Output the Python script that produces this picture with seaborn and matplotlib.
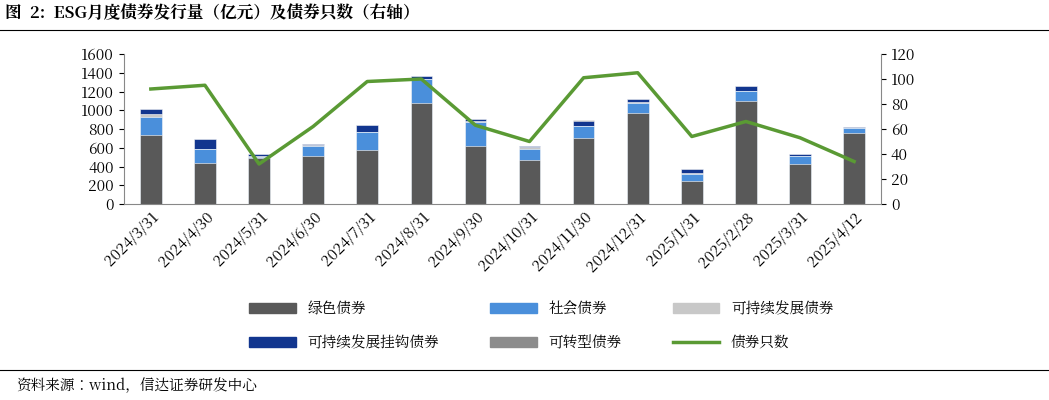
import matplotlib
matplotlib.use("Agg")
import matplotlib.pyplot as plt
from matplotlib import font_manager
from matplotlib.ft2font import FT2Font
import numpy as np
import seaborn as sns
from matplotlib.lines import Line2D
from matplotlib.patches import Patch

# pick a CJK face that really has simplified Chinese glyphs
cjk = "Noto Sans CJK SC"
for f in font_manager.fontManager.ttflist:
    if "CJK" in f.name:
        try:
            ft = FT2Font(f.fname)
            if ft.get_char_index(ord("绿")) and ft.get_char_index(ord("债")):
                cjk = f.name
                if "SC" in f.name:
                    break
        except Exception:
            pass
plt.rcParams["font.family"] = [cjk, "DejaVu Sans"]

DATES = ["2024/3/31", "2024/4/30", "2024/5/31", "2024/6/30", "2024/7/31",
         "2024/8/31", "2024/9/30", "2024/10/31", "2024/11/30", "2024/12/31",
         "2025/1/31", "2025/2/28", "2025/3/31", "2025/4/12"]
GREEN = [740, 440, 490, 515, 580, 1080, 620, 470, 700, 975, 250, 1100, 430, 760]
SOCIAL = [190, 145, 15, 105, 190, 250, 260, 115, 130, 100, 70, 110, 80, 50]
SUSTAIN = [30, 0, 5, 5, 0, 5, 10, 20, 5, 10, 15, 0, 5, 0]
SLB = [55, 110, 20, 15, 75, 30, 20, 10, 55, 40, 40, 50, 20, 10]
TRANS = [0, 0, 0, 0, 0, 0, 0, 5, 5, 0, 0, 0, 0, 0]
COUNT = [92, 95, 32, 62, 98, 100, 63, 50, 101, 105, 54, 66, 53, 34]

SERIES = [("绿色债券", GREEN, "#595959"), ("社会债券", SOCIAL, "#4A8FDB"),
          ("可持续发展债券", SUSTAIN, "#C8C8C8"),
          ("可持续发展挂钩债券", SLB, "#12368F"), ("可转型债券", TRANS, "#8C8C8C")]

fig = plt.figure(figsize=(10.49, 4.0), dpi=100)
ax = fig.add_axes([0.118, 0.49, 0.722, 0.375])

cum = np.zeros(len(DATES))
cums = []
for name, vals, col in SERIES:
    cum = cum + np.array(vals)
    cums.append((name, cum.copy(), col))
for name, c, col in reversed(cums):
    sns.barplot(x=DATES, y=c, color=col, width=0.4, ax=ax, saturation=1,
                edgecolor="white", linewidth=0.4)

ax.set_ylim(0, 1600)
ax.set_yticks(range(0, 1601, 200))
ax.set_xlim(-0.5, len(DATES) - 0.5)
ax.tick_params(axis="x", rotation=45, labelsize=11, length=0)
for lab in ax.get_xticklabels():
    lab.set_ha("right"); lab.set_rotation_mode("anchor")
ax.tick_params(axis="y", labelsize=11)
for s in ["top", "right"]:
    ax.spines[s].set_visible(False)
ax.spines["left"].set_color("#888888")
ax.spines["bottom"].set_color("#888888")
ax.set_xlabel(""); ax.set_ylabel("")

ax2 = ax.twinx()
sns.lineplot(x=np.arange(len(DATES)), y=COUNT, color="#5A9A34", linewidth=2.5, ax=ax2)
ax2.set_ylim(0, 120)
ax2.set_yticks(range(0, 121, 20))
ax2.tick_params(axis="y", labelsize=11)
for s in ["top", "left", "bottom"]:
    ax2.spines[s].set_visible(False)
ax2.spines["right"].set_color("#888888")

handles = [Patch(color=c) for _, _, c in SERIES] + [Line2D([], [], color="#5A9A34", lw=2.5)]
labels = [n for n, _, _ in SERIES] + ["债券只数"]
order = [0, 3, 1, 4, 2, 5]
fig.legend([handles[i] for i in order], [labels[i] for i in order], ncol=3,
           loc="center left", bbox_to_anchor=(0.225, 0.185), frameon=False, fontsize=10.5,
           columnspacing=3.5, handlelength=3.2, handleheight=0.6, labelspacing=1.2)

fig.text(0.005, 0.965, "图  2:  ESG月度债券发行量（亿元）及债券只数（右轴）",
         fontsize=12, fontweight="bold", va="center")
fig.add_artist(Line2D([0, 1], [0.925, 0.925], color="black", lw=0.8))
fig.add_artist(Line2D([0, 1], [0.075, 0.075], color="black", lw=0.8))
fig.text(0.015, 0.035, "资料来源：wind，信达证券研发中心", fontsize=10.5,
         style="italic", va="center")

fig.savefig("out.png", dpi=100)
